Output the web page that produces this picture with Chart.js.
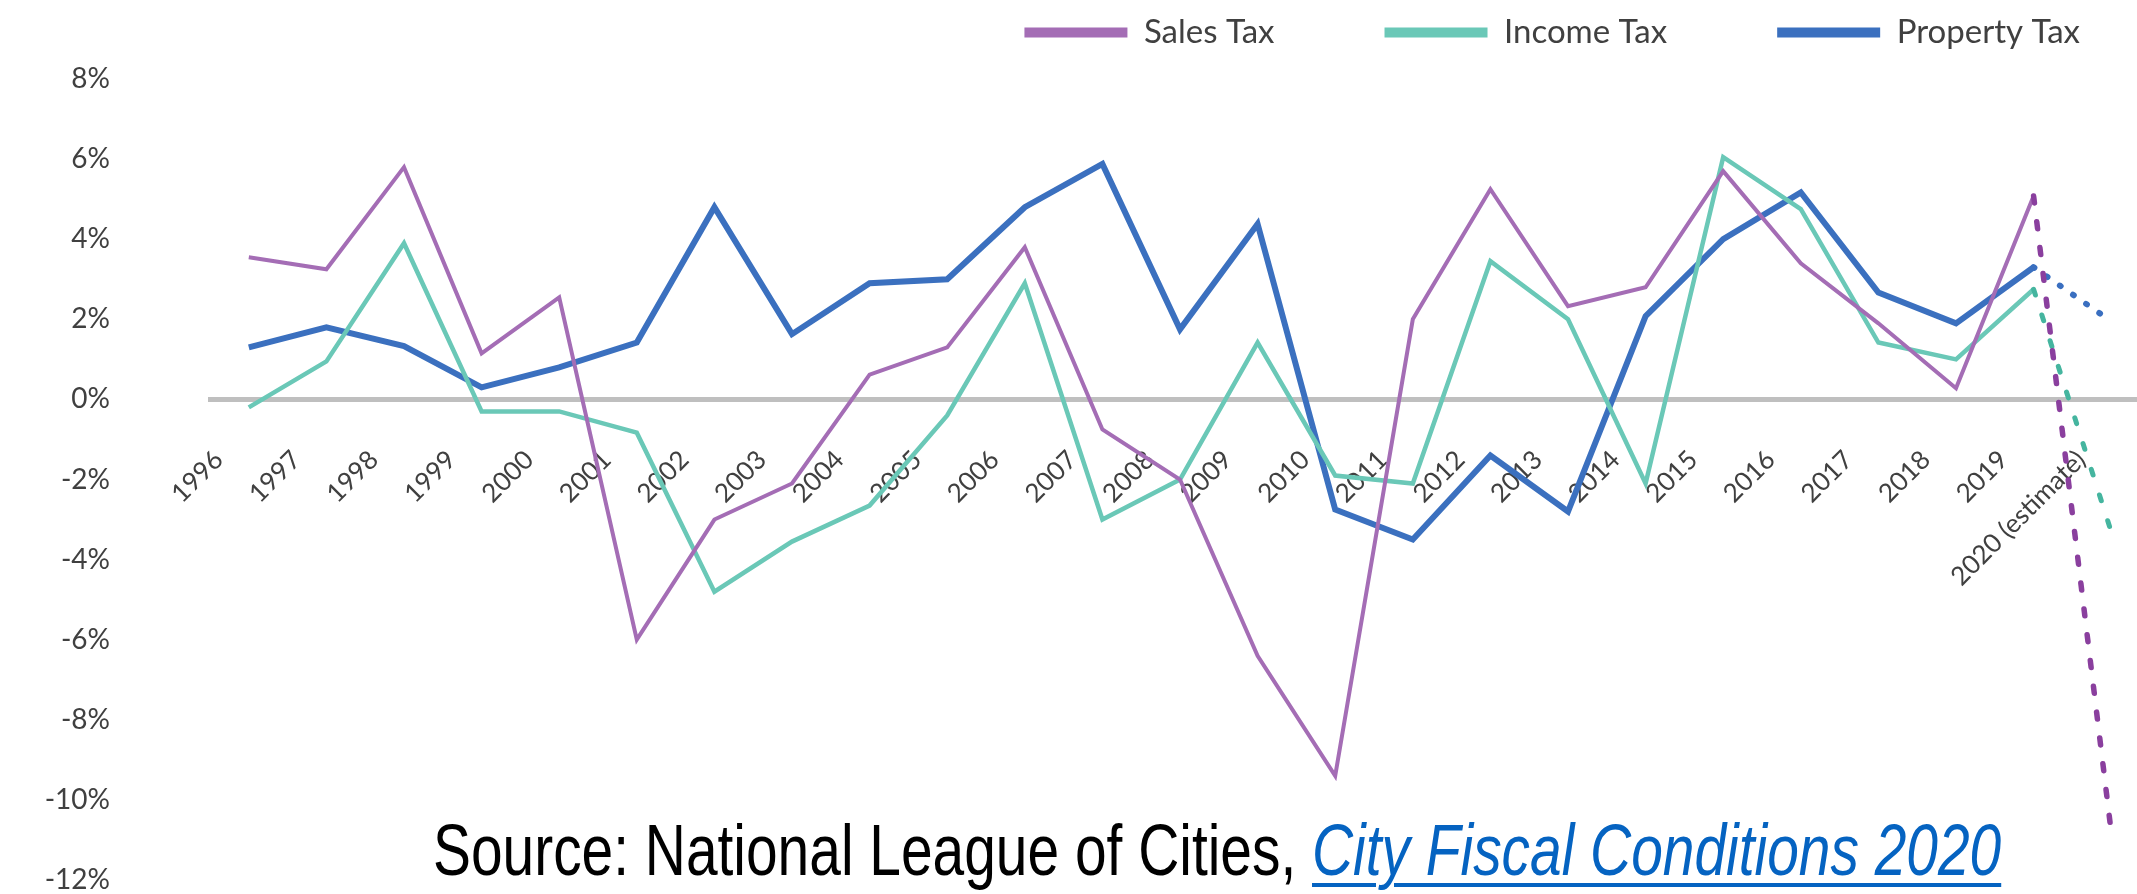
<!DOCTYPE html>
<html>
<head>
<meta charset="utf-8">
<script src="https://cdn.jsdelivr.net/npm/chart.js@4.4.1/dist/chart.umd.min.js"></script>
<style>
html, body { margin: 0; padding: 0; width: 2137px; height: 894px; overflow: hidden; background: #fff; }
#wrap { position: absolute; left: 0; top: -94px; width: 2190px; height: 1094px; }
#source {
	position: absolute; left: 433px; top: 814px;
	font: 72px/72px "Liberation Sans", Arial, sans-serif;
	color: #000; white-space: nowrap;
	transform: scaleX(0.79); transform-origin: 0 0;
}
#source .link {
	color: #0563c1; font-style: italic;
	text-decoration: underline; text-decoration-thickness: 4px; text-underline-offset: 8px;
}
</style>
</head>
<body>
<div id="wrap"><canvas id="taxchart"></canvas></div>
<div id="source">Source: National League of Cities, <span class="link">City Fiscal Conditions 2020</span></div>

<script>
var years = ["1996", "1997", "1998", "1999", "2000", "2001", "2002", "2003", "2004", "2005",
	"2006", "2007", "2008", "2009", "2010", "2011", "2012", "2013", "2014", "2015",
	"2016", "2017", "2018", "2019", "2020 (estimate)"];

var salesTax = [3.55, 3.25, 5.8, 1.15, 2.55, -6.0, -3.0, -2.1, 0.62, 1.3,
	3.8, -0.75, -2.0, -6.4, -9.4, 2.0, 5.25, 2.33, 2.8, 5.7,
	3.4, 1.9, 0.28, 5.08, -10.8];

var incomeTax = [-0.2, 0.95, 3.9, -0.3, -0.3, -0.83, -4.8, -3.55, -2.65, -0.4,
	2.9, -3.0, -2.0, 1.42, -1.9, -2.1, 3.45, 2.0, -2.1, 6.05,
	4.75, 1.42, 1.0, 2.75, -3.3];

var propertyTax = [1.3, 1.8, 1.33, 0.3, 0.8, 1.42, 4.8, 1.63, 2.9, 3.0,
	4.8, 5.88, 1.75, 4.38, -2.75, -3.5, -1.4, -2.8, 2.08, 4.0,
	5.17, 2.67, 1.9, 3.3, 1.95];

var yTicks = [-12, -10, -8, -6, -4, -2, 0, 2, 4, 6, 8];

var textColor = "#404040";
var lastIdx = years.length - 1;

// the 2020 estimate is drawn dotted
function makeSeries(label, data, color, width, dotColor, dotWidth, dash)
{
	var estimate = function(ctx, val) { return ctx.p1DataIndex === lastIdx ? val : undefined; };
	return {
		label: label,
		data: data,
		borderColor: color,
		backgroundColor: color,
		borderWidth: width,
		pointRadius: 0,
		pointHoverRadius: 0,
		fill: false,
		tension: 0,
		segment: {
			borderDash: function(ctx) { return estimate(ctx, dash); },
			borderCapStyle: function(ctx) { return estimate(ctx, "round"); },
			borderColor: function(ctx) { return estimate(ctx, dotColor); },
			borderWidth: function(ctx) { return estimate(ctx, dotWidth); }
		}
	};
}

var chart = new Chart(document.getElementById("taxchart").getContext("2d"), {
	type: "line",
	data: {
		labels: years,
		datasets: [
			makeSeries("Sales Tax", salesTax, "#a46db5", 4, "#8a3f9e", 5.5, [7, 19]),
			makeSeries("Income Tax", incomeTax, "#6ac8b7", 4.5, "#45b59f", 5, [6, 21]),
			makeSeries("Property Tax", propertyTax, "#3b70bf", 6, "#3a6fc0", 6, [1, 15])
		]
	},
	options: {
		responsive: true,
		maintainAspectRatio: false,
		animation: false,
		events: [],
		// bottom room covers the y tick padding, which chart.js also reserves below the axis
		layout: { padding: { top: 0, left: 0, right: 0, bottom: 120 } },
		plugins: {
			tooltip: { enabled: false },
			legend: {
				position: "top",
				align: "end",
				labels: {
					usePointStyle: true,
					pointStyle: "line",
					pointStyleWidth: 103,
					padding: 110,
					color: textColor,
					font: { family: "Lato", size: 33 },
					generateLabels: function(c) {
						var items = Chart.defaults.plugins.legend.labels.generateLabels(c);
						items.forEach(function(it) { it.lineWidth = 10; it.lineDash = []; it.lineCap = "butt"; });
						return items;
					}
				}
			}
		},
		scales: {
			x: {
				type: "category",
				position: { y: 0 },
				offset: true,
				grid: { display: false, drawTicks: false },
				border: { display: true, color: "#bfbfbf", width: 5 },
				ticks: {
					autoSkip: false,
					minRotation: 45,
					maxRotation: 45,
					labelOffset: -30,
					padding: 45,
					color: textColor,
					font: { family: "Lato", size: 26 }
				}
			},
			y: {
				position: "left",
				min: -12,
				max: 8.5,
				grid: { display: false, drawTicks: false },
				border: { display: false },
				afterBuildTicks: function(scale) {
					scale.ticks = yTicks.map(function(v) { return { value: v }; });
				},
				afterFit: function(scale) { scale.width = 210; },
				ticks: {
					padding: 100,
					color: textColor,
					font: { family: "Lato", size: 28 },
					callback: function(v) { return v + "%"; }
				}
			},
			yRight: {
				position: "right",
				grid: { display: false, drawTicks: false },
				border: { display: false },
				ticks: { display: false },
				afterFit: function(scale) { scale.width = 40; }
			}
		}
	}
});
</script>
</body>
</html>
